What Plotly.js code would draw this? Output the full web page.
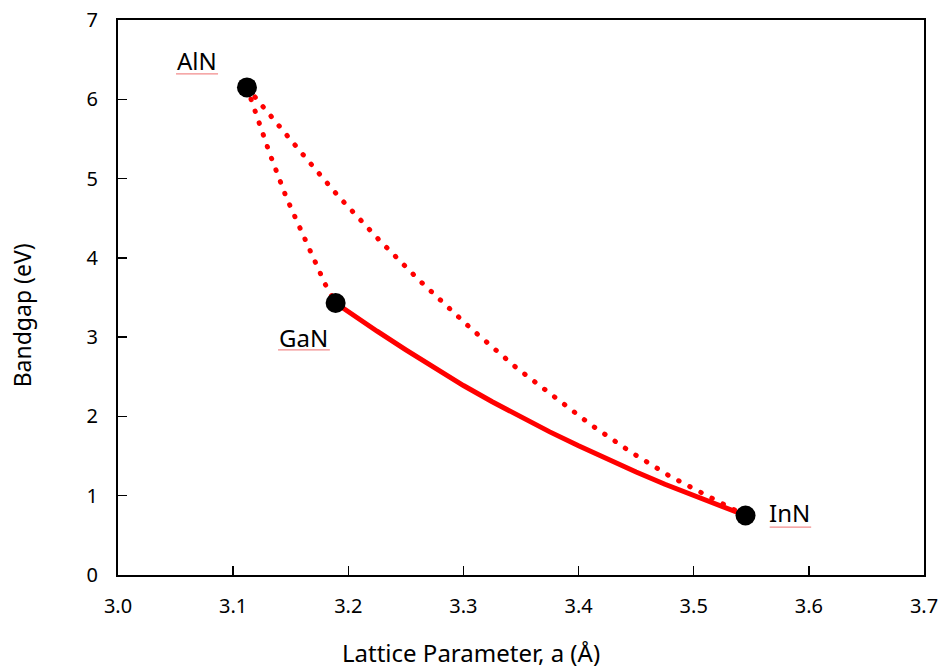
<!DOCTYPE html>
<html>
<head>
<meta charset="utf-8">
<script src="https://cdn.plot.ly/plotly-3.0.1.min.js"></script>
<style>
html,body{margin:0;padding:0;background:#fff;}
#chart{width:943px;height:670px;}
.scatterlayer .js-line{stroke-linecap:round;}
</style>
</head>
<body>
<div id="chart"></div>
<script>
// Binary endpoints (lattice parameter a in Å, bandgap in eV)
const compounds = ["AlN", "GaN", "InN"];
const latticeA = [3.112, 3.189, 3.545];
const bandgap = [6.15, 3.43, 0.75];

// InGaN (GaN -> InN), solid curve
const ingaA  = [3.189, 3.200, 3.225, 3.250, 3.275, 3.300, 3.325, 3.350, 3.375, 3.400, 3.425, 3.450, 3.475, 3.500, 3.520, 3.545];
const ingaEg = [3.43, 3.320, 3.075, 2.840, 2.610, 2.390, 2.185, 1.990, 1.805, 1.630, 1.460, 1.300, 1.145, 1.000, 0.885, 0.75];

// AlInN (AlN -> InN), dotted curve
const alinA  = [3.112, 3.125, 3.158, 3.191, 3.226, 3.262, 3.277, 3.307, 3.346, 3.378, 3.411, 3.445, 3.479, 3.516, 3.545];
const alinEg = [6.15, 5.920, 5.348, 4.784, 4.238, 3.712, 3.510, 3.103, 2.614, 2.249, 1.892, 1.555, 1.249, 0.967, 0.75];

// AlGaN (AlN -> GaN), dotted curve
const algaA  = [3.112, 3.122, 3.132, 3.1465, 3.163, 3.180, 3.189];
const algaEg = [6.15, 5.717, 5.306, 4.751, 4.200, 3.666, 3.43];

// Label positions
const labelX = [3.0687, 3.1615, 3.5836];
const labelY = [6.49, 3.0, 0.79];

const xTicks = [3.0, 3.1, 3.2, 3.3, 3.4, 3.5, 3.6, 3.7];
const xTickText = ["3.0", "3.1", "3.2", "3.3", "3.4", "3.5", "3.6", "3.7"];
const yTicks = [0, 1, 2, 3, 4, 5, 6, 7];

const xTitle = "Lattice Parameter, a (Å)";
const yTitle = "Bandgap (eV)";

const font = "Noto Sans, Open Sans, sans-serif";
const red = "#ff0000";
const dotDash = "0.5px,12px";

const traces = [
  {x: alinA, y: alinEg, mode: "lines", line: {color: red, width: 5, dash: dotDash}, hoverinfo: "skip"},
  {x: algaA, y: algaEg, mode: "lines", line: {color: red, width: 5, dash: dotDash}, hoverinfo: "skip"},
  {x: ingaA, y: ingaEg, mode: "lines", line: {color: red, width: 5}, hoverinfo: "skip"},
  {x: latticeA, y: bandgap, mode: "markers", marker: {color: "#000", size: 20}, text: compounds}
];

const annotations = compounds.map((c, i) => ({
  x: labelX[i], y: labelY[i], xref: "x", yref: "y", text: c, showarrow: false,
  font: {family: font, size: 24, color: "#000"}
}));
// axis titles (centred on the chart area, as in the original)
annotations.push({
  x: 0.438, y: -0.139, xref: "paper", yref: "paper", text: xTitle, showarrow: false,
  xanchor: "center", yanchor: "middle",
  font: {family: font, size: 24, color: "#000"}
});
annotations.push({
  x: -0.119, y: 0.468, xref: "paper", yref: "paper", text: yTitle, showarrow: false,
  xanchor: "center", yanchor: "middle", textangle: -90,
  font: {family: font, size: 23, color: "#000"}
});

// spell-check style underlines under the labels
const ulX0 = [3.0504, 3.139, 3.566];
const ulX1 = [3.0869, 3.184, 3.602];
const ulY = [6.32, 2.84, 0.605];
const shapes = compounds.map((c, i) => ({
  type: "line", xref: "x", yref: "y", x0: ulX0[i], x1: ulX1[i], y0: ulY[i], y1: ulY[i],
  line: {color: "#f28b8b", width: 1.2}
}));

const layout = {
  width: 943, height: 670,
  margin: {l: 118, r: 19, t: 20, b: 95},
  paper_bgcolor: "#fff", plot_bgcolor: "#fff",
  showlegend: false,
  font: {family: font, color: "#000"},
  xaxis: {
    range: [3.0, 3.7], tickvals: xTicks, ticktext: xTickText,
    ticks: "inside", ticklen: 9, tickwidth: 1.3, tickcolor: "#000",
    showline: true, mirror: true, linecolor: "#000", linewidth: 2,
    showgrid: false, zeroline: false,
    tickfont: {family: font, size: 20, color: "#000"},
    ticklabelstandoff: 12
  },
  yaxis: {
    range: [0, 7], tickvals: yTicks,
    ticks: "inside", ticklen: 9, tickwidth: 1.3, tickcolor: "#000",
    showline: true, mirror: true, linecolor: "#000", linewidth: 2,
    showgrid: false, zeroline: false,
    tickfont: {family: font, size: 20, color: "#000"},
    ticklabelstandoff: 14
  },
  annotations: annotations,
  shapes: shapes
};

Plotly.newPlot("chart", traces, layout, {displayModeBar: false, staticPlot: true});
</script>
</body>
</html>
